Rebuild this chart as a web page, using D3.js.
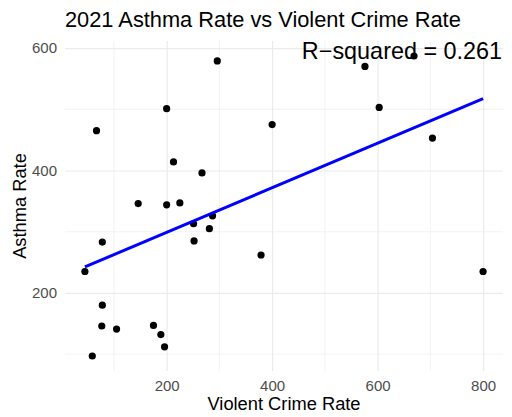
<!DOCTYPE html>
<html>
<head>
<meta charset="utf-8">
<script src="https://cdn.jsdelivr.net/npm/d3@7"></script>
<style>
  body { margin: 0; background: #fff; }
  text { font-family: "Liberation Sans", Arial, sans-serif; }
</style>
</head>
<body>
<div id="chart"></div>
<script>
const w = 512;
const h = 417;

// Violent crime rate (x) and asthma rate (y)
const crimeRate = [67, 200, 296, 400, 576, 603, 669, 704,
                   213, 267, 146, 200, 225, 287, 251, 281, 252, 78, 45,
                   379, 800,
                   78, 77, 105, 175, 189, 196, 59];
const asthmaRate = [465, 501, 579, 475, 570, 503, 587, 453,
                    414, 396, 346, 344, 347, 326, 313, 305, 285, 283, 235,
                    262, 235,
                    180, 146, 141, 147, 132, 112, 97];
const xTicks = [200, 400, 600, 800];
const yTicks = [200, 400, 600];
const xMinor = [100, 300, 500, 700];
const yMinor = [100, 300, 500];
const rSquaredLabel = "R\u2212squared = 0.261";

const dataset = crimeRate.map((c, i) => ({ crime: c, asthma: asthmaRate[i] }));

const margin = { top: 41, right: 9, bottom: 46, left: 65 };

let svg = d3.select("#chart")
            .append("svg")
            .attr("width", w)
            .attr("height", h);

// ggplot-style 5% expansion
const xExt = d3.extent(crimeRate);
const yExt = d3.extent(asthmaRate);
const xPad = (xExt[1] - xExt[0]) * 0.05;
const yPad = (yExt[1] - yExt[0]) * 0.05;

const x = d3.scaleLinear()
    .domain([xExt[0] - xPad, xExt[1] + xPad])
    .range([margin.left, w - margin.right]);
const y = d3.scaleLinear()
    .domain([yExt[0] - yPad, yExt[1] + yPad])
    .range([h - margin.bottom, margin.top]);

// grid: minor then major
svg.append("g").selectAll("line").data(xMinor).enter().append("line")
    .attr("x1", d => x(d)).attr("x2", d => x(d))
    .attr("y1", margin.top).attr("y2", h - margin.bottom)
    .attr("stroke", "#ebebeb").attr("stroke-width", 0.6);
svg.append("g").selectAll("line").data(yMinor).enter().append("line")
    .attr("y1", d => y(d)).attr("y2", d => y(d))
    .attr("x1", margin.left).attr("x2", w - margin.right)
    .attr("stroke", "#ebebeb").attr("stroke-width", 0.6);

svg.append("g")
    .attr("transform", "translate(0," + margin.top + ")")
    .call(d3.axisBottom(x).tickValues(xTicks).tickSize(h - margin.top - margin.bottom).tickFormat(""))
    .call(g => g.select(".domain").remove())
    .call(g => g.selectAll("line").attr("stroke", "#ebebeb").attr("stroke-width", 1.2));
svg.append("g")
    .attr("transform", "translate(" + margin.left + ",0)")
    .call(d3.axisRight(y).tickValues(yTicks).tickSize(w - margin.left - margin.right).tickFormat(""))
    .call(g => g.select(".domain").remove())
    .call(g => g.selectAll("line").attr("stroke", "#ebebeb").attr("stroke-width", 1.2));

// tick labels
svg.append("g")
    .attr("transform", "translate(0," + (h - margin.bottom) + ")")
    .call(d3.axisBottom(x).tickValues(xTicks).tickSize(0).tickPadding(9))
    .call(g => g.select(".domain").remove())
    .call(g => g.selectAll("text").attr("fill", "#4d4d4d").style("font-size", "15px"));
svg.append("g")
    .attr("transform", "translate(" + margin.left + ",0)")
    .call(d3.axisLeft(y).tickValues(yTicks).tickSize(0).tickPadding(8))
    .call(g => g.select(".domain").remove())
    .call(g => g.selectAll("text").attr("fill", "#4d4d4d").style("font-size", "15px"));

// points
svg.append("g").selectAll("circle")
    .data(dataset)
    .enter()
    .append("circle")
    .attr("cx", d => x(d.crime))
    .attr("cy", d => y(d.asthma))
    .attr("r", 3.6)
    .attr("fill", "#000");

// linear fit
const mx = d3.mean(crimeRate), my = d3.mean(asthmaRate);
const slope = d3.sum(dataset, d => (d.crime - mx) * (d.asthma - my)) /
              d3.sum(dataset, d => (d.crime - mx) ** 2);
const icpt = my - slope * mx;
svg.append("line")
    .attr("x1", x(xExt[0])).attr("y1", y(icpt + slope * xExt[0]))
    .attr("x2", x(xExt[1])).attr("y2", y(icpt + slope * xExt[1]))
    .attr("stroke", "#0000ff")
    .attr("stroke-width", 3);

// texts
svg.append("text")
    .attr("x", margin.left).attr("y", 27)
    .style("font-size", "21.8px").attr("fill", "#000")
    .text("2021 Asthma Rate vs Violent Crime Rate");

svg.append("text")
    .attr("x", 402).attr("y", 59)
    .attr("text-anchor", "middle")
    .style("font-size", "23.4px").attr("fill", "#000")
    .text(rSquaredLabel);

svg.append("text")
    .attr("x", (margin.left + w - margin.right) / 2).attr("y", 410)
    .attr("text-anchor", "middle")
    .style("font-size", "18.3px").attr("fill", "#000")
    .text("Violent Crime Rate");

svg.append("text")
    .attr("transform", "translate(26," + ((margin.top + h - margin.bottom) / 2) + ") rotate(-90)")
    .attr("text-anchor", "middle")
    .style("font-size", "18.3px").attr("fill", "#000")
    .text("Asthma Rate");
</script>
</body>
</html>
